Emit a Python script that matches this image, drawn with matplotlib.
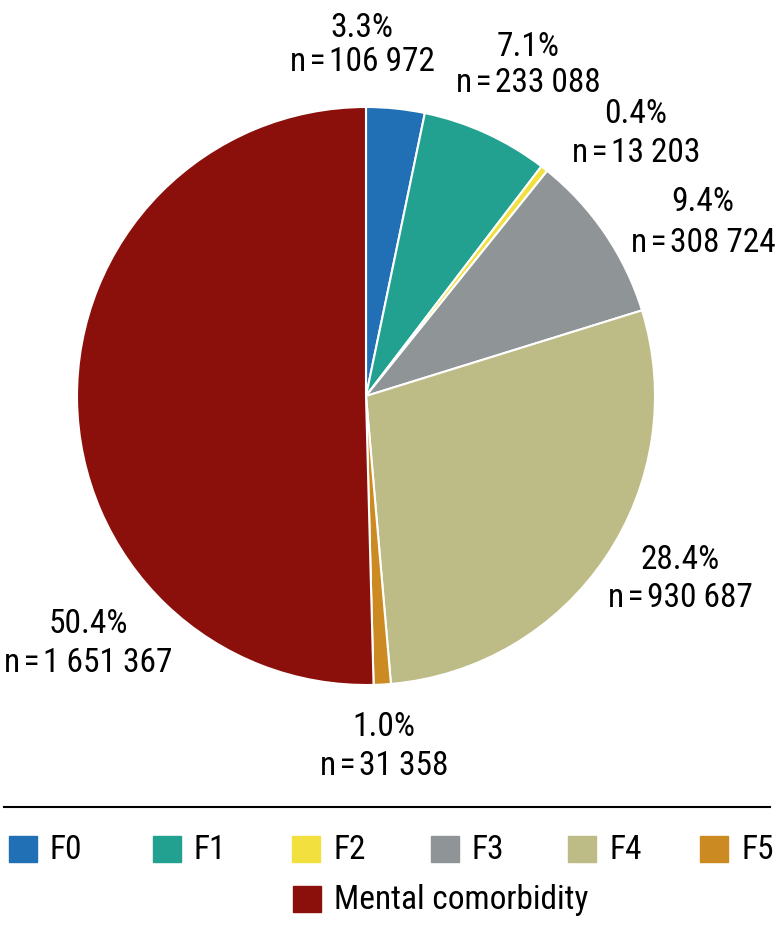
import matplotlib.pyplot as plt
from matplotlib.patches import Rectangle

categories = ["F0", "F1", "F2", "F3", "F4", "F5", "Mental comorbidity"]
counts = [106972, 233088, 13203, 308724, 930687, 31358, 1651367]
colors = ["#2170b5", "#22a190", "#f2e03e", "#8f9497", "#bdbb86", "#cc8a23", "#8b100c"]

# label centres in pixels: x, y of percent line, y of n line
label_pos = [(362, 28, 62), (528, 47, 83), (636, 114, 153), (703, 202, 243),
             (680, 560, 598), (384, 727, 766), (88, 624, 663)]

W, H = 778, 929
plt.rcParams['font.family'] = ['Roboto Condensed', 'DejaVu Sans']
HS = "\u200a"  # hair space, the reference uses tight spacing

fig = plt.figure(figsize=(W / 100, H / 100), dpi=100)

cx, cy, r = 366, 397, 289
ax = fig.add_axes([(cx - r) / W, 1 - (cy + r) / H, 2 * r / W, 2 * r / H])
ax.pie(counts, colors=colors, startangle=90, counterclock=False, radius=1,
       wedgeprops=dict(edgecolor="white", linewidth=1.5))
ax.set_xlim(-1, 1)
ax.set_ylim(-1, 1)
ax.set_aspect("equal")
ax.axis("off")

total = sum(counts)
for i, c in enumerate(counts):
    x, y1, y2 = label_pos[i]
    pct = "%.1f%%" % (100 * c / total)
    n = "n" + HS + "=" + HS + "{:,}".format(c).replace(",", HS + HS)
    fig.text(x / W, 1 - y1 / H, pct, ha="center", va="center", fontsize=24)
    fig.text(x / W, 1 - y2 / H, n, ha="center", va="center", fontsize=24)

# separator line
fig.add_artist(plt.Line2D([4 / W, 770 / W], [1 - 808 / H, 1 - 808 / H],
                          color="black", linewidth=1.5))

# legend
leg_x = [9, 153, 292, 431, 568, 700, 293]
leg_y = [850, 850, 850, 850, 850, 850, 900]
for i, name in enumerate(categories):
    x, y = leg_x[i], leg_y[i]
    fig.add_artist(Rectangle((x / W, 1 - (y + 13) / H), 28 / W, 26 / H,
                             transform=fig.transFigure, color=colors[i]))
    fig.text((x + 41) / W, 1 - y / H, name, ha="left", va="center", fontsize=24)

fig.savefig("out.png", dpi=100)
